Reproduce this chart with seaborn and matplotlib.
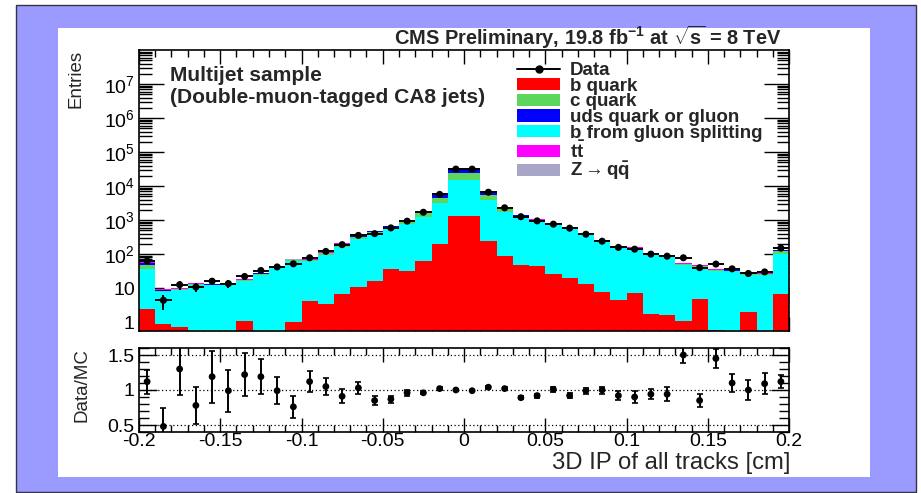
import numpy as np
import pandas as pd
import matplotlib
matplotlib.use("Agg")
import matplotlib.pyplot as plt
import seaborn as sns
from matplotlib.patches import Rectangle, Patch
from matplotlib.lines import Line2D
from matplotlib.ticker import MultipleLocator, LogLocator, FixedLocator, FixedFormatter, NullFormatter

# ---------------- data ----------------
x_min, x_max, n_bins = -0.2, 0.2, 40

data_counts = [63, 4.4, 12.6, 10.8, 16, 13.6, 22, 33, 42, 52,
               78, 120, 190, 355, 400, 590, 930, 1700, 5700, 31600,
               31600, 6600, 2300, 1260, 950, 760, 580, 385, 240, 158,
               140, 100, 87, 78, 40, 51, 37, 27, 30, 150]

b_quark = [2.5, 0.9, 0.7, 0, 0, 0, 1.07, 0, 0, 0.98,
           4.1, 3.5, 6.9, 10.8, 16, 37, 33, 63, 195, 1300,
           1320, 250, 91, 47, 44, 26, 20, 13.6, 7.7, 4.4,
           7.2, 1.7, 1.6, 1.07, 4.7, 0.6, 0, 2.0, 0, 6.9]

g_splitting = [33, 7, 8, 12, 12, 12.5, 15.5, 25, 38, 60,
               57, 90, 160, 270, 360, 500, 740, 1200, 3000, 13700,
               13700, 3750, 1600, 1200, 900, 670, 560, 345, 220, 150,
               135, 95, 83, 47, 38, 31, 31, 23, 25, 95]

c_quark = [13, 0.5, 0.5, 0.8, 0.6, 0.6, 0.8, 1.2, 2, 4,
           5, 12, 28, 40, 60, 90, 130, 330, 1300, 9500,
           9800, 1500, 380, 110, 55, 35, 30, 20, 12, 8,
           7, 5, 4, 2, 2, 1.5, 1.5, 1, 1.3, 18]

uds_gluon = [8, 0.3, 0.3, 0.5, 0.4, 0.3, 0.4, 0.8, 1, 2,
             2.5, 6, 10, 20, 28, 40, 60, 150, 1050, 7000,
             7100, 800, 170, 40, 20, 12, 10, 6, 4, 3,
             2.5, 2, 1.5, 1, 1, 0.8, 0.8, 0.5, 0.6, 10]

ttbar = [1.5, 0.7, 0.5, 0.7, 0.6, 0.6, 0.8, 1.2, 1.5, 2.5,
         3, 5, 8, 14, 18, 25, 30, 45, 80, 150,
         150, 90, 60, 45, 35, 28, 22, 15, 10, 7,
         6, 4.5, 4, 2.5, 2.2, 1.8, 1.6, 1.3, 1.4, 6]

z_qq = [0.1, 0.05, 0.05, 0.05, 0.05, 0.05, 0.05, 0.1, 0.1, 0.1,
        0.2, 0.3, 0.5, 0.8, 1, 1.5, 2, 3, 6, 12,
        12, 6, 3, 2, 1.5, 1, 0.8, 0.6, 0.4, 0.3,
        0.3, 0.2, 0.2, 0.1, 0.1, 0.1, 0.1, 0.05, 0.05, 0.3]

ratio_vals = [1.12, 0.48, 1.30, 0.78, 1.19, 0.99, 1.22, 1.19, 0.99, 0.76,
              1.12, 1.05, 0.91, 1.03, 0.85, 0.87, 0.96, 0.96, 1.02, 1.00,
              0.99, 1.04, 1.02, 0.89, 0.92, 1.01, 0.92, 0.99, 1.00, 0.92,
              0.90, 0.94, 0.94, 1.50, 0.85, 1.45, 1.10, 1.00, 1.09, 1.12]

ratio_errs = [0.17, 0.27, 0.37, 0.27, 0.37, 0.30, 0.31, 0.25, 0.19, 0.16,
              0.15, 0.12, 0.10, 0.08, 0.06, 0.05, 0.04, 0.02, 0.02, 0.01,
              0.01, 0.02, 0.02, 0.02, 0.03, 0.04, 0.04, 0.04, 0.05, 0.06,
              0.08, 0.07, 0.10, 0.12, 0.09, 0.13, 0.13, 0.14, 0.15, 0.09]

x_ticks = [-0.2, -0.15, -0.1, -0.05, 0, 0.05, 0.1, 0.15, 0.2]
x_tick_labels = ["-0.2", "-0.15", "-0.1", "-0.05", "0", "0.05", "0.1", "0.15", "0.2"]
y_ticks = [1, 10, 1e2, 1e3, 1e4, 1e5, 1e6, 1e7]
y_tick_labels = ["1", "10", "$10^{2}$", "$10^{3}$", "$10^{4}$", "$10^{5}$", "$10^{6}$", "$10^{7}$"]
r_ticks = [0.5, 1, 1.5]
r_tick_labels = ["0.5", "1", "1.5"]

components = [  # bottom to top of the stack
    ("b quark", b_quark, "#ff0000"),
    ("b from gluon splitting", g_splitting, "#00ffff"),
    ("c quark", c_quark, "#5cd65c"),
    ("uds quark or gluon", uds_gluon, "#0000ff"),
    (r"$\mathbf{t\bar{t}}$", ttbar, "#ff00ff"),
    (r"$\mathbf{Z\rightarrow q\bar{q}}$", z_qq, "#a8a6c6"),
]
legend_order = ["b quark", "c quark", "uds quark or gluon", "b from gluon splitting",
                r"$\mathbf{t\bar{t}}$", r"$\mathbf{Z\rightarrow q\bar{q}}$"]

# ---------------- style ----------------
sns.set_theme(style="ticks")
plt.rcParams["font.family"] = ["Liberation Sans", "DejaVu Sans"]
plt.rcParams["mathtext.fontset"] = "custom"
plt.rcParams["mathtext.rm"] = "Liberation Sans"
plt.rcParams["mathtext.bf"] = "Liberation Sans:bold"
plt.rcParams["mathtext.it"] = "Liberation Sans:italic"
plt.rcParams["mathtext.sf"] = "Liberation Sans"

W, H = 921, 493
fig = plt.figure(figsize=(W / 100, H / 100), dpi=100, facecolor="white")


def fx(px):
    return px / W


def fy(py):
    return 1 - py / H


# frame background
fig.patches.append(Rectangle((fx(16), fy(492)), fx(900), 487 / H, transform=fig.transFigure,
                             facecolor="#9a9aff", edgecolor="#333344", lw=1.0, zorder=-3))
fig.patches.append(Rectangle((fx(58), fy(477)), fx(812), 449 / H, transform=fig.transFigure,
                             facecolor="white", edgecolor="none", zorder=-2))

ax = fig.add_axes([fx(139), fy(331), fx(650), 281 / H])
axr = fig.add_axes([fx(139), fy(432), fx(650), 84 / H])

edges = np.linspace(x_min, x_max, n_bins + 1)
centers = 0.5 * (edges[:-1] + edges[1:])
half_w = 0.5 * (edges[1] - edges[0])

ax.set_yscale("log")

# cumulative stack
cum = []
running = np.zeros(n_bins)
for name, vals, col in components:
    running = running + np.asarray(vals, dtype=float)
    cum.append((name, running.copy(), col))

df_list = []
for name, vals, col in cum:
    df_list.append(pd.DataFrame({"x": centers, "w": vals, "comp": name}))
stack_df = pd.concat(df_list, ignore_index=True)

for name, vals, col in reversed(cum):
    sub = stack_df[stack_df["comp"] == name]
    sns.histplot(data=sub, x="x", weights="w", bins=n_bins, binrange=(x_min, x_max),
                 element="step", fill=True, color=col, alpha=1.0, linewidth=0,
                 ax=ax, zorder=2)

# data points
data_arr = np.asarray(data_counts, dtype=float)
ax.errorbar(centers, data_arr, xerr=half_w, yerr=np.sqrt(data_arr), fmt="none",
            ecolor="black", elinewidth=1.4, capsize=0, zorder=4)
sns.scatterplot(x=centers, y=data_arr, color="black", s=26, edgecolor="none", ax=ax, zorder=5)

ax.set_xlim(x_min, x_max)
ax.set_ylim(0.55, 1e8)
ax.set_xlabel("")
ax.set_ylabel("")
ax.xaxis.set_major_locator(FixedLocator(x_ticks))
ax.xaxis.set_minor_locator(MultipleLocator(0.01))
ax.xaxis.set_major_formatter(NullFormatter())
ax.yaxis.set_major_locator(FixedLocator(y_ticks))
ax.yaxis.set_major_formatter(FixedFormatter(y_tick_labels))
ax.yaxis.set_minor_locator(LogLocator(base=10, subs=np.arange(2, 10), numticks=30))
ax.yaxis.set_minor_formatter(NullFormatter())
ax.tick_params(axis="both", which="both", direction="in", top=True, right=True,
               colors="black", width=1.0)
ax.tick_params(axis="y", which="major", length=18, labelsize=14, pad=3)
ax.tick_params(axis="y", which="minor", length=9)
ax.tick_params(axis="x", which="major", length=10)
ax.tick_params(axis="x", which="minor", length=5)
for sp in ax.spines.values():
    sp.set_color("black")
    sp.set_linewidth(1.2)
ax.set_facecolor("white")

# ratio panel
ratio_arr = np.asarray(ratio_vals)
for yv in r_ticks:
    axr.axhline(yv, color="black", ls=(0, (1, 2)), lw=0.9, zorder=1)
axr.errorbar(centers, ratio_arr, yerr=np.asarray(ratio_errs), fmt="none",
             ecolor="black", elinewidth=1.4, capsize=2, capthick=1.2, zorder=3)
sns.scatterplot(x=centers, y=ratio_arr, color="black", s=24, edgecolor="none", ax=axr, zorder=4)
axr.set_xlim(x_min, x_max)
axr.set_ylim(0.4, 1.6)
axr.set_xlabel("")
axr.set_ylabel("")
axr.xaxis.set_major_locator(FixedLocator(x_ticks))
axr.xaxis.set_major_formatter(FixedFormatter(x_tick_labels))
axr.xaxis.set_minor_locator(MultipleLocator(0.01))
axr.yaxis.set_major_locator(FixedLocator(r_ticks))
axr.yaxis.set_major_formatter(FixedFormatter(r_tick_labels))
axr.yaxis.set_minor_locator(MultipleLocator(0.1))
axr.tick_params(axis="both", which="both", direction="in", top=True, right=True,
                colors="black", width=1.0)
axr.tick_params(axis="y", which="major", length=13, labelsize=14, pad=3)
axr.tick_params(axis="y", which="minor", length=7)
axr.tick_params(axis="x", which="major", length=10, labelsize=14, pad=1.0)
axr.tick_params(axis="x", which="minor", length=5)
for sp in axr.spines.values():
    sp.set_color("black")
    sp.set_linewidth(1.2)

# texts
fig.text(fx(76), fy(50), "Entries", rotation=90, ha="center", va="top", fontsize=13.5)
fig.text(fx(82), fy(348), "Data/MC", rotation=90, ha="center", va="top", fontsize=13.5)
fig.text(fx(790), fy(469), "3D IP of all tracks [cm]", ha="right", va="baseline", fontsize=17.2)
fig.text(fx(782), fy(45), r"CMS Preliminary, 19.8 fb$^{\mathbf{-1}}$ at $\mathbf{\sqrt{s}}$ = 8 TeV",
         ha="right", va="baseline", fontsize=14.4, fontweight="bold")
fig.text(fx(170), fy(81), "Multijet sample", ha="left", va="baseline", fontsize=15.1, fontweight="bold")
fig.text(fx(170), fy(103), "(Double-muon-tagged CA8 jets)", ha="left", va="baseline",
         fontsize=15.1, fontweight="bold")

# legend
colors = {name: col for name, vals, col in components}
handles = [Line2D([0], [0], color="black", lw=1.4, marker="o", ms=5)]
labels = ["Data"]
for name in legend_order:
    handles.append(Patch(facecolor=colors[name], edgecolor="none"))
    labels.append(name)
fs_leg = 13.5
fs_px = fs_leg * 100 / 72
leg = ax.legend(handles, labels, loc="upper left", bbox_to_anchor=(fx(517), fy(62)),
                bbox_transform=fig.transFigure, frameon=False, borderpad=0, borderaxespad=0,
                handlelength=43 / fs_px, handleheight=12 / fs_px,
                handletextpad=10 / fs_px, labelspacing=-0.07,
                prop={"weight": "bold", "size": fs_leg})

fig.savefig("out.png", dpi=100, facecolor="white")
